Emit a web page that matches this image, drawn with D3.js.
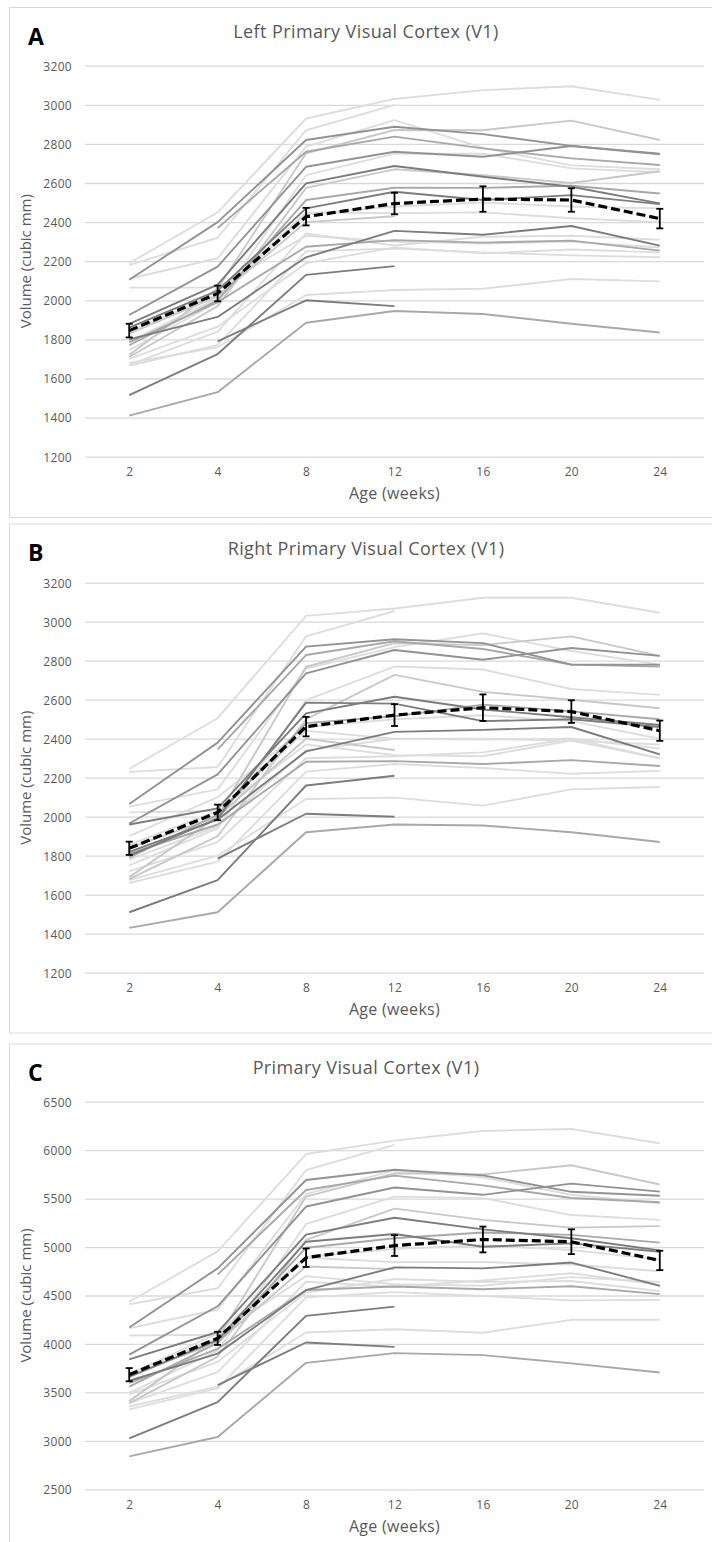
<!DOCTYPE html>
<html>
<head>
<meta charset="utf-8">
<script src="https://cdn.jsdelivr.net/npm/d3@7"></script>
<style>
  html, body { margin: 0; padding: 0; background: #ffffff; }
  svg { display: block; }
  text { font-family: "Open Sans", Lato, sans-serif; }
</style>
</head>
<body>
<svg id="fig" width="712" height="1542"></svg>
<script>
// Scan ages (weeks)
const weeks = ["2", "4", "8", "12", "16", "20", "24"];

// Line tone for each animal (same animal, same tone, in all three panels)
const subjectTones = [
  "G", "K", "K", "K", "L", "L", "D", "G", "D", "K", "K", "G", "L",
  "M", "L", "M", "L", "L", "L", "L", "L", "G", "M", "L", "L"
];

// Left V1 volume (cubic mm) per animal, null = no scan
const leftV1 = [
  [1410, 1530, 1885, 1945, 1930, 1880, 1835],
  [1515, 1725, 2130, 2175, null, null, null],
  [null, 1790, 2000, 1970, null, null, null],
  [1800, 1915, 2220, 2355, 2335, 2380, 2280],
  [2190, 2450, 2930, 3030, 3075, 3095, 3025],
  [2180, 2320, 2870, 3000, null, null, null],
  [2105, 2400, 2820, 2888, 2850, 2790, 2750],
  [null, 2370, 2760, 2837, 2777, 2726, 2692],
  [1925, 2172, 2683, 2760, 2734, 2789, 2747],
  [1880, 2080, 2598, 2687, 2632, 2581, 2496],
  [1860, 2050, 2470, 2555, 2513, 2538, 2492],
  [1770, 2000, 2513, 2576, 2575, 2586, 2546],
  [2110, 2215, 2786, 2922, 2780, 2690, 2670],
  [1720, 2060, 2752, 2871, 2870, 2919, 2820],
  [1745, 1990, 2640, 2750, 2750, 2675, 2655],
  [1710, 1970, 2575, 2670, 2640, 2600, 2660],
  [1840, 2030, 2450, 2445, 2450, 2420, 2400],
  [1670, 1840, 2342, 2280, 2325, 2330, 2310],
  [1665, 1772, 2250, 2265, 2245, 2230, 2220],
  [1680, 1760, 2027, 2053, 2059, 2109, 2097],
  [2065, 2065, 2330, 2300, 2290, 2300, 2270],
  [1785, 1990, 2274, 2308, 2295, 2305, 2254],
  [1830, 2020, 2400, 2430, null, null, null],
  [1790, 2010, 2440, 2480, 2500, 2480, 2470],
  [1700, 1865, 2190, 2270, 2240, 2260, 2245]
];

// Right V1 volume (cubic mm) per animal
const rightV1 = [
  [1430, 1510, 1920, 1960, 1955, 1920, 1870],
  [1510, 1675, 2160, 2210, null, null, null],
  [null, 1785, 2015, 2000, null, null, null],
  [1820, 1985, 2335, 2435, 2445, 2460, 2320],
  [2245, 2505, 3030, 3068, 3123, 3123, 3046],
  [2230, 2255, 2925, 3055, null, null, null],
  [2065, 2380, 2872, 2910, 2890, 2780, 2780],
  [null, 2345, 2829, 2900, 2860, 2780, 2770],
  [1965, 2217, 2735, 2855, 2805, 2865, 2825],
  [1960, 2043, 2530, 2615, 2550, 2510, 2470],
  [1800, 1990, 2585, 2580, 2490, 2500, 2460],
  [1790, 2010, 2480, 2515, 2575, 2540, 2500],
  [2052, 2140, 2760, 2870, 2940, 2850, 2780],
  [1690, 2000, 2769, 2890, 2880, 2925, 2825],
  [1750, 1940, 2598, 2770, 2755, 2655, 2625],
  [1680, 1900, 2500, 2727, 2640, 2600, 2556],
  [1855, 2030, 2440, 2400, 2395, 2400, 2350],
  [1720, 1870, 2300, 2310, 2330, 2400, 2300],
  [1660, 1770, 2231, 2270, 2250, 2220, 2235],
  [1675, 1800, 2091, 2098, 2057, 2140, 2152],
  [2022, 2030, 2370, 2316, 2310, 2390, 2370],
  [1810, 1960, 2282, 2285, 2270, 2290, 2260],
  [1840, 2000, 2400, 2342, null, null, null],
  [1900, 2100, 2460, 2500, 2520, 2490, 2400],
  [1780, 1950, 2340, 2400, 2400, 2390, 2300]
];

// Whole V1 volume (cubic mm) per animal
const totalV1 = [
  [2840, 3040, 3805, 3905, 3885, 3800, 3705],
  [3025, 3400, 4290, 4385, null, null, null],
  [null, 3575, 4015, 3970, null, null, null],
  [3620, 3900, 4555, 4790, 4780, 4840, 4600],
  [4435, 4955, 5960, 6098, 6198, 6218, 6071],
  [4410, 4575, 5795, 6055, null, null, null],
  [4170, 4780, 5692, 5798, 5740, 5570, 5530],
  [null, 4715, 5589, 5737, 5637, 5506, 5462],
  [3890, 4389, 5418, 5615, 5539, 5654, 5572],
  [3840, 4123, 5128, 5302, 5182, 5091, 4966],
  [3660, 4040, 5055, 5135, 5003, 5038, 4952],
  [3560, 4010, 4993, 5091, 5150, 5126, 5046],
  [4162, 4355, 5546, 5792, 5720, 5540, 5450],
  [3410, 4060, 5521, 5761, 5750, 5844, 5645],
  [3495, 3930, 5238, 5520, 5505, 5330, 5280],
  [3390, 3870, 5075, 5397, 5280, 5200, 5216],
  [3695, 4060, 4890, 4845, 4845, 4820, 4750],
  [3390, 3710, 4642, 4590, 4655, 4730, 4610],
  [3325, 3542, 4481, 4535, 4495, 4450, 4455],
  [3355, 3560, 4118, 4151, 4116, 4249, 4249],
  [4087, 4095, 4700, 4616, 4600, 4690, 4640],
  [3595, 3950, 4556, 4593, 4565, 4595, 4514],
  [3670, 4020, 4800, 4772, null, null, null],
  [3690, 4110, 4900, 4980, 5020, 4970, 4870],
  [3480, 3815, 4530, 4670, 4640, 4650, 4545]
];

// Group means and error bar half-widths
const leftMean  = [1845, 2035, 2428, 2495, 2518, 2513, 2418];
const leftErr   = [35, 40, 45, 55, 65, 60, 50];
const rightMean = [1838, 2022, 2462, 2521, 2559, 2539, 2441];
const rightErr  = [34, 40, 50, 56, 68, 58, 52];
const totalMean = [3683, 4058, 4890, 5015, 5078, 5055, 4862];
const totalErr  = [68, 68, 95, 107, 133, 128, 100];

// Value-axis ticks
const hemiTicks  = [1200, 1400, 1600, 1800, 2000, 2200, 2400, 2600, 2800, 3000, 3200];
const totalTicks = [2500, 3000, 3500, 4000, 4500, 5000, 5500, 6000, 6500];

const toneColor = { L: "#dddddd", M: "#c8c8c8", G: "#a8a8a8", D: "#929292", K: "#7c7c7c" };
const toneOrder = { L: 0, M: 1, G: 2, D: 3, K: 4 };
const textGrey = "#595959";
const gridGrey = "#d9d9d9";
const font = "'Open Sans', Lato, sans-serif";

const svg = d3.select("#fig");

const panels = [
  { letter: "A", title: "Left Primary Visual Cortex (V1)", top: 7.5, height: 510,
    plotTop: 65.7, plotBottom: 456.7, ticks: hemiTicks,
    rows: leftV1, mean: leftMean, err: leftErr },
  { letter: "B", title: "Right Primary Visual Cortex (V1)", top: 524, height: 509,
    plotTop: 582.7, plotBottom: 972.7, ticks: hemiTicks,
    rows: rightV1, mean: rightMean, err: rightErr },
  { letter: "C", title: "Primary Visual Cortex (V1)", top: 1044, height: 520,
    plotTop: 1101.7, plotBottom: 1489.3, ticks: totalTicks,
    rows: totalV1, mean: totalMean, err: totalErr }
];

const plotLeft = 85, plotRight = 704;

panels.forEach(p => {
  const g = svg.append("g");

  // chart-area frame
  g.append("rect")
    .attr("x", 9.5).attr("y", p.top)
    .attr("width", 720).attr("height", p.height)
    .attr("fill", "#ffffff")
    .attr("stroke", gridGrey).attr("stroke-width", 1);

  const x = d3.scalePoint().domain(weeks).range([plotLeft, plotRight]).padding(0.5);
  const y = d3.scaleLinear()
    .domain(d3.extent(p.ticks))
    .range([p.plotBottom, p.plotTop]);

  // horizontal gridlines + value labels
  const yAxis = d3.axisLeft(y).tickValues(p.ticks).tickFormat(d3.format("d"))
    .tickSize(-(plotRight - plotLeft)).tickPadding(13);
  const ya = g.append("g").attr("transform", `translate(${plotLeft},0)`).call(yAxis);
  ya.select(".domain").remove();
  ya.selectAll(".tick line").attr("stroke", gridGrey).attr("stroke-width", 1.3);
  ya.selectAll(".tick text")
    .attr("fill", textGrey).attr("font-size", 12).attr("dy", "0.36em")
    .style("font-family", font).style("letter-spacing", "0.3px");

  // category labels on the time axis
  const xAxis = d3.axisBottom(x).tickSize(0).tickPadding(11);
  const xa = g.append("g").attr("transform", `translate(0,${p.plotBottom})`).call(xAxis);
  xa.select(".domain").remove();
  xa.selectAll(".tick text")
    .attr("fill", textGrey).attr("font-size", 12)
    .style("font-family", font).style("letter-spacing", "0.3px");

  // per-animal trajectories, lighter tones underneath
  const line = d3.line()
    .defined(d => d.v != null)
    .x(d => x(d.w))
    .y(d => y(d.v));

  const series = p.rows.map((row, i) => ({
    tone: subjectTones[i],
    pts: row.map((v, j) => ({ w: weeks[j], v }))
  })).sort((a, b) => toneOrder[a.tone] - toneOrder[b.tone]);

  g.append("g").selectAll("path").data(series).join("path")
    .attr("d", d => line(d.pts))
    .attr("fill", "none")
    .attr("stroke", d => toneColor[d.tone])
    .attr("stroke-width", 1.9)
    .attr("stroke-linejoin", "round");

  // group mean with error bars
  const meanPts = p.mean.map((v, j) => ({ w: weeks[j], v, e: p.err[j] }));
  const eb = g.append("g").selectAll("g").data(meanPts).join("g");
  eb.append("line")
    .attr("x1", d => x(d.w)).attr("x2", d => x(d.w))
    .attr("y1", d => y(d.v - d.e)).attr("y2", d => y(d.v + d.e))
    .attr("stroke", "#000").attr("stroke-width", 1.8);
  eb.append("line")
    .attr("x1", d => x(d.w) - 3.5).attr("x2", d => x(d.w) + 3.5)
    .attr("y1", d => y(d.v + d.e)).attr("y2", d => y(d.v + d.e))
    .attr("stroke", "#000").attr("stroke-width", 1.8);
  eb.append("line")
    .attr("x1", d => x(d.w) - 3.5).attr("x2", d => x(d.w) + 3.5)
    .attr("y1", d => y(d.v - d.e)).attr("y2", d => y(d.v - d.e))
    .attr("stroke", "#000").attr("stroke-width", 1.8);

  g.append("path")
    .attr("d", line(meanPts))
    .attr("fill", "none")
    .attr("stroke", "#000")
    .attr("stroke-width", 3.2)
    .attr("stroke-dasharray", "9,4");

  // panel letter
  g.append("text")
    .attr("x", 28).attr("y", p.top + 37)
    .attr("font-size", 23).attr("font-weight", 700).attr("fill", "#000")
    .style("font-family", font)
    .text(p.letter);

  // chart title
  g.append("text")
    .attr("x", 366).attr("y", p.plotTop - 27.4)
    .attr("text-anchor", "middle")
    .attr("font-size", 18).attr("fill", textGrey)
    .style("font-family", font).style("letter-spacing", "0.4px")
    .text(p.title);

  // axis titles
  g.append("text")
    .attr("x", (plotLeft + plotRight) / 2).attr("y", p.plotBottom + 42.5)
    .attr("text-anchor", "middle")
    .attr("font-size", 16).attr("fill", textGrey)
    .style("font-family", font).style("letter-spacing", "0.3px")
    .text("Age (weeks)");

  g.append("text")
    .attr("transform", `translate(31,${(p.plotTop + p.plotBottom) / 2}) rotate(-90)`)
    .attr("text-anchor", "middle")
    .attr("font-size", 15).attr("fill", textGrey)
    .style("font-family", font)
    .text("Volume (cubic mm)");
});
</script>
</body>
</html>
